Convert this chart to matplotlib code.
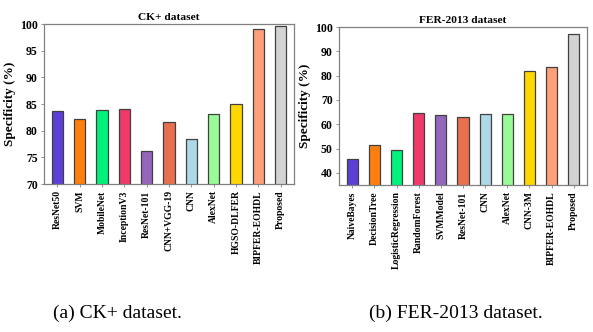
import matplotlib
matplotlib.use("Agg")
import matplotlib.pyplot as plt

ck_labels = ["ResNet50", "SVM", "MobileNet", "InceptionV3", "ResNet-101", "CNN+VGG-19",
             "CNN", "AlexNet", "HGSO-DLFER", "BIPFER-EOHDL", "Proposed"]
ck_values = [83.7, 82.2, 83.85, 84.1, 76.1, 81.6, 78.5, 83.1, 85.0, 99.0, 99.55]

fer_labels = ["NaiveBayes", "DecisionTree", "LogisticRegression", "RandomForest", "SVMModel",
              "ResNet-101", "CNN", "AlexNet", "CNN-3M", "BIPFER-EOHDL", "Proposed"]
fer_values = [45.5, 51.5, 49.6, 64.5, 63.6, 63.0, 64.2, 64.2, 81.8, 83.6, 97.3]

ck_colors = ["#5b3fd6", "#ff7f0e", "#00f27a", "#f03a6a", "#9467bd", "#e8704f",
             "#add8e6", "#98fb98", "#ffd700", "#ffa07a", "#d3d3d3"]
fer_colors = ck_colors

plt.rcParams['font.family'] = ['Liberation Serif', 'DejaVu Serif']

fig = plt.figure(figsize=(5.93, 3.32), dpi=100)
W, H = 593, 332

def make_ax(rect_px, labels, values, colors, ylim, yticks, title):
    x0, y0, x1, y1 = rect_px
    ax = fig.add_axes([x0 / W, 1 - y1 / H, (x1 - x0) / W, (y1 - y0) / H])
    x = range(len(labels))
    ax.bar(x, values, width=0.5, color=colors, edgecolor="#404040", linewidth=0.9)
    ax.set_ylim(*ylim)
    ax.set_xlim(-0.6, len(labels) - 0.4)
    ax.set_yticks(yticks)
    ax.set_yticklabels([str(t) for t in yticks], fontsize=8.5, fontweight="bold")
    ax.set_xticks(list(x))
    ax.set_xticklabels(labels, rotation=90, fontsize=6.9, fontweight="bold")
    ax.set_ylabel("Specificity (%)", fontsize=9.5, fontweight="bold", labelpad=3)
    ax.set_title(title, fontsize=8.2, fontweight="bold", pad=3)
    for s in ax.spines.values():
        s.set_color("#808080")
        s.set_linewidth(0.9)
    ax.tick_params(axis="both", length=2.5, width=0.6, color="#808080", pad=2)
    return ax

make_ax((44, 24, 294, 184), ck_labels, ck_values, ck_colors, (70, 100),
        [70, 75, 80, 85, 90, 95, 100], "CK+ dataset")
make_ax((339, 27, 587, 185), fer_labels, fer_values, fer_colors, (35, 100),
        [40, 50, 60, 70, 80, 90, 100], "FER-2013 dataset")

fig.text(117 / W, 1 - 313 / H, "(a) CK+ dataset.", fontsize=14, ha="center", va="center")
fig.text(456 / W, 1 - 313 / H, "(b) FER-2013 dataset.", fontsize=14, ha="center", va="center")

fig.savefig("out.png", dpi=100)
